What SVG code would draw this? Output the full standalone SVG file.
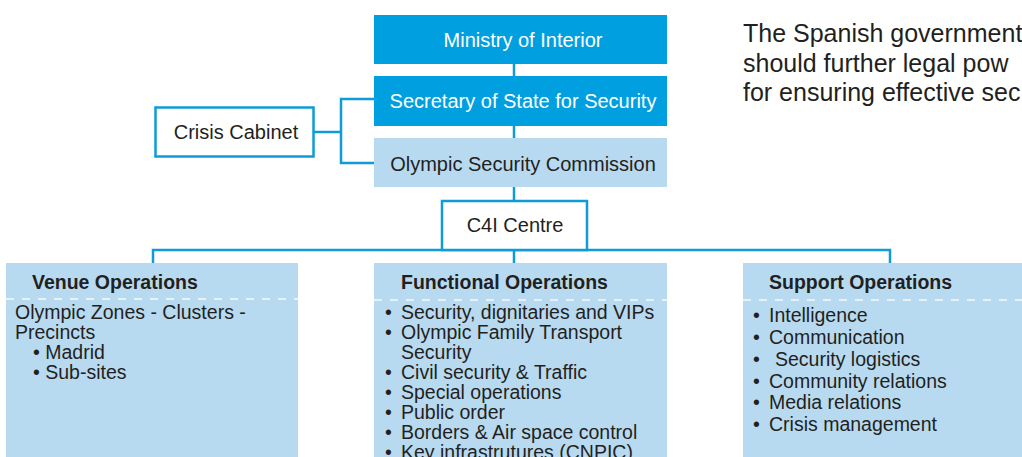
<svg xmlns="http://www.w3.org/2000/svg" width="1022" height="457" viewBox="0 0 1022 457">
<style>
text{font-family:"Liberation Sans",Arial,sans-serif;fill:#231f20}
.dark{fill:#009fdf}
.light{fill:#b8daf1}
.white{fill:#fff;stroke:#0f9bd7;stroke-width:2.5}
.hd{font-size:20px;fill:#fff;text-anchor:middle}
.bx{font-size:20px;text-anchor:middle}
.ttl{font-size:19.5px;font-weight:bold}
.it{font-size:19.5px}
.con{fill:none;stroke:#0f9bd7;stroke-width:2.5}
.dash{stroke:#e6f1fa;stroke-width:2;stroke-dasharray:8 8}
.intro{font-size:25px}
</style>
<g id="connectors">
<path class="con" d="M514 64V76M514 126V138M514 187V201"/>
<path class="con" d="M314 132H341M374 99H341V163H374"/>
<path class="con" d="M153 263V250H890V263M514 250V263"/>
</g>
<g id="ministry"><rect class="dark" x="374" y="15" width="293" height="49"/><text class="hd" x="523" y="47">Ministry of Interior</text></g>
<g id="secretary"><rect class="dark" x="374" y="76" width="293" height="50"/><text class="hd" x="523" y="108">Secretary of State for Security</text></g>
<g id="commission"><rect class="light" x="374" y="138" width="293" height="49"/><text class="bx" x="523" y="171">Olympic Security Commission</text></g>
<g id="crisis"><rect class="white" x="155.5" y="107.5" width="158" height="49"/><text class="bx" x="236" y="139">Crisis Cabinet</text></g>
<g id="c4i"><rect class="white" x="442" y="201" width="145" height="49"/><text class="bx" x="515" y="232">C4I Centre</text></g>
<g id="venue">
<rect class="light" x="6" y="263" width="292" height="200"/>
<line class="dash" x1="6" y1="299" x2="298" y2="299"/>
<text class="ttl" x="32" y="289">Venue Operations</text>
<text class="it" x="15" y="319">Olympic Zones - Clusters -</text>
<text class="it" x="15" y="339">Precincts</text>
<text class="it" x="33" y="359">• Madrid</text>
<text class="it" x="33" y="379">• Sub-sites</text>
</g>
<g id="functional">
<rect class="light" x="374" y="263" width="293" height="200"/>
<line class="dash" x1="374" y1="300" x2="667" y2="300"/>
<text class="ttl" x="401" y="289">Functional Operations</text>
<text class="it" x="385" y="319">•</text><text class="it" x="401" y="319">Security, dignitaries and VIPs</text>
<text class="it" x="385" y="339">•</text><text class="it" x="401" y="339">Olympic Family Transport</text>
<text class="it" x="401" y="359">Security</text>
<text class="it" x="385" y="379">•</text><text class="it" x="401" y="379">Civil security &amp; Traffic</text>
<text class="it" x="385" y="399">•</text><text class="it" x="401" y="399">Special operations</text>
<text class="it" x="385" y="419">•</text><text class="it" x="401" y="419">Public order</text>
<text class="it" x="385" y="439">•</text><text class="it" x="401" y="439">Borders &amp; Air space control</text>
<text class="it" x="385" y="459">•</text><text class="it" x="401" y="459">Key infrastrutures (CNPIC)</text>
</g>
<g id="support">
<rect class="light" x="743" y="263" width="290" height="200"/>
<line class="dash" x1="743" y1="300" x2="1022" y2="300"/>
<text class="ttl" x="769" y="289">Support Operations</text>
<text class="it" x="753" y="322">•</text><text class="it" x="769" y="322">Intelligence</text>
<text class="it" x="753" y="344">•</text><text class="it" x="769" y="344">Communication</text>
<text class="it" x="753" y="366">•</text><text class="it" x="775" y="366">Security logistics</text>
<text class="it" x="753" y="388">•</text><text class="it" x="769" y="388">Community relations</text>
<text class="it" x="753" y="409">•</text><text class="it" x="769" y="409">Media relations</text>
<text class="it" x="753" y="431">•</text><text class="it" x="769" y="431">Crisis management</text>
</g>
<g id="intro">
<text class="intro" x="743" y="42">The Spanish government</text>
<text class="intro" x="743" y="72">should further legal pow</text>
<text class="intro" x="743" y="101">for ensuring effective sec</text>
</g>
</svg>
